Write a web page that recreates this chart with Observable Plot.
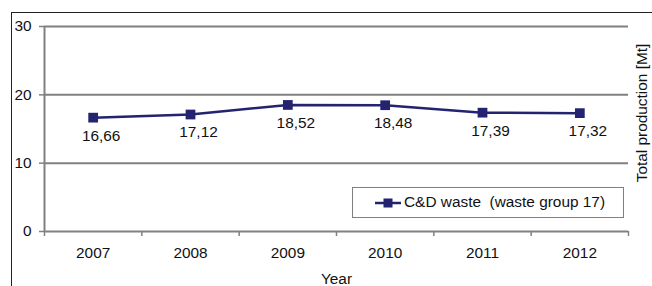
<!DOCTYPE html>
<html>
<head>
<meta charset="utf-8">
<script src="https://cdn.jsdelivr.net/npm/d3@7"></script>
<script src="https://cdn.jsdelivr.net/npm/@observablehq/plot@0.6"></script>
<style>
  html, body { margin: 0; padding: 0; background: #fff; }
  #wrap { position: relative; width: 652px; height: 286px; overflow: hidden; font-family: "Liberation Sans", Arial, sans-serif; }
  #frame { position: absolute; left: 11px; top: 12px; width: 660px; height: 300px; border-left: 1.5px solid #222; border-top: 1.5px solid #222; }
  #chart { position: absolute; left: 0; top: 0; }
  #legend { position: absolute; left: 352px; top: 187px; width: 272px; height: 31px; border: 1px solid #808080; background: #fff; box-sizing: border-box; font-size: 15.4px; color: #111; }
  #legend svg { position: absolute; left: 22px; top: 8px; }
  #legend span { position: absolute; left: 51px; top: 5px; white-space: pre; }
</style>
</head>
<body>
<div id="wrap">
  <div id="frame"></div>
  <div id="chart"></div>
  <div id="legend"><svg width="28" height="14"><line x1="0" y1="7" x2="26" y2="7" stroke="#23236f" stroke-width="2.5"/><rect x="8.5" y="2.5" width="9" height="9" fill="#23236f"/></svg><span id="legtext"></span></div>
</div>
<script>
const years = [2007, 2008, 2009, 2010, 2011, 2012];
const values = [16.66, 17.12, 18.52, 18.48, 17.39, 17.32];
const valueLabels = ["16,66", "17,12", "18,52", "18,48", "17,39", "17,32"];
const yTicks = [0, 10, 20, 30];
const seriesName = "C&D waste  (waste group 17)";
const xTitle = "Year";
const yTitle = "Total production [Mt]";

const data = years.map((y, i) => ({year: y, value: values[i], label: valueLabels[i]}));
const bounds = [years[0] - 0.5, ...years.map(y => y + 0.5)];
const navy = "#23236f";
const gray = "#808080";

const chart = Plot.plot({
  width: 652,
  height: 286,
  marginLeft: 44,
  marginRight: 24,
  marginTop: 26,
  marginBottom: 55,
  style: {fontFamily: "Liberation Sans, Arial, sans-serif", fontSize: "15px", color: "#111", background: "transparent", overflow: "visible"},
  x: {type: "linear", domain: [bounds[0], bounds[bounds.length - 1]]},
  y: {domain: [0, 30]},
  marks: [
    Plot.gridY(yTicks.filter(t => t > 0), {stroke: gray, strokeOpacity: 1, strokeWidth: 2}),
    Plot.ruleX([bounds[0]], {stroke: gray, strokeWidth: 2}),
    Plot.ruleY([0], {stroke: gray, strokeWidth: 2}),
    Plot.axisY({ticks: yTicks, tickSize: 5, tickPadding: 8, stroke: gray, strokeWidth: 1.5, fontSize: 15.4, label: null}),
    Plot.axisX({ticks: bounds, tickSize: 5, tickFormat: () => "", stroke: gray, strokeWidth: 1.5, label: null}),
    Plot.axisX({ticks: years, tickSize: 0, tickPadding: 16, tickFormat: d => String(d), fontSize: 15.4, label: null}),
    Plot.line(data, {x: "year", y: "value", stroke: navy, strokeWidth: 2.5}),
    Plot.dot(data, {x: "year", y: "value", symbol: "square", r: 5.5, fill: navy, stroke: "none"}),
    Plot.text(data, {x: "year", y: "value", text: "label", dx: 8, dy: 18, fontSize: 15.4, fill: "#111"}),
    Plot.text([xTitle], {frameAnchor: "bottom", dy: 52, fontSize: 15.4, fill: "#111"}),
    Plot.text([yTitle], {frameAnchor: "right", textAnchor: "middle", dx: 14, dy: -16, rotate: -90, fontSize: 15.4, fill: "#111"})
  ]
});
document.getElementById("chart").appendChild(chart);
document.getElementById("legtext").textContent = seriesName;
</script>
</body>
</html>
